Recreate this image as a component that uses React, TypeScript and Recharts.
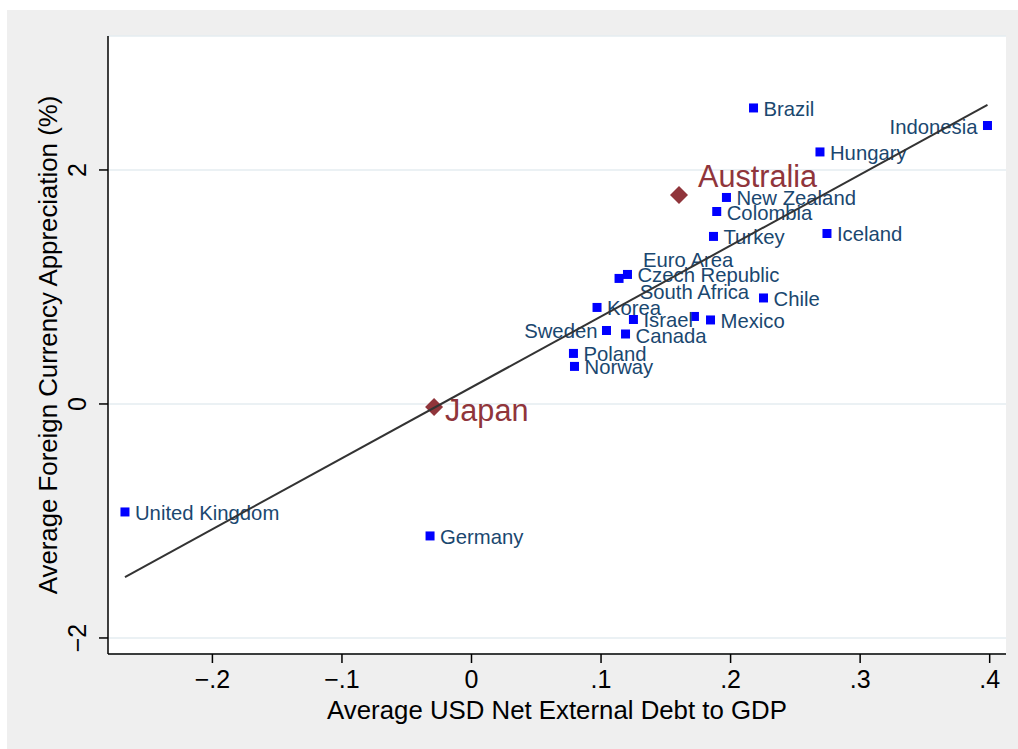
import { ScatterChart, Scatter, XAxis, YAxis, CartesianGrid } from 'recharts'

const FONT = '"Liberation Sans", Arial, Helvetica, sans-serif'

const COUNTRIES = [
  'Brazil', 'Indonesia', 'Hungary', 'New Zealand', 'Colombia', 'Turkey', 'Iceland',
  'Czech Republic', 'Euro Area', 'South Africa', 'Korea', 'Israel', 'Mexico', 'Chile',
  'Sweden', 'Canada', 'Poland', 'Norway', 'United Kingdom', 'Germany',
]
const DEBT = [
  0.2177, 0.3983, 0.269, 0.1968, 0.1893, 0.1868, 0.2744,
  0.1204, 0.1139, 0.1721, 0.0969, 0.125, 0.1845, 0.2254,
  0.1042, 0.1189, 0.0787, 0.0795, -0.2675, -0.032,
]
const APPREC = [
  2.53, 2.38, 2.154, 1.765, 1.645, 1.432, 1.457,
  1.107, 1.073, 0.748, 0.825, 0.722, 0.718, 0.906,
  0.628, 0.598, 0.432, 0.321, -0.923, -1.128,
]

const HIGHLIGHT = ['Australia', 'Japan']
const HIGHLIGHT_DEBT = [0.1602, -0.0289]
const HIGHLIGHT_APPREC = [1.786, -0.026]

// fitted line end points
const FIT_X = [-0.2675, 0.3983]
const FIT_Y = [-1.479, 2.556]

const X_TICKS = [-0.2, -0.1, 0, 0.1, 0.2, 0.3, 0.4]
const Y_TICKS = [-2, 0, 2]

const countryData = COUNTRIES.map((name, i) => ({ name, x: DEBT[i], y: APPREC[i] }))
const highlightData = HIGHLIGHT.map((name, i) => ({ name, x: HIGHLIGHT_DEBT[i], y: HIGHLIGHT_APPREC[i] }))
const fitData = FIT_X.map((x, i) => ({ x, y: FIT_Y[i] }))

// label placement (style only)
const LABEL_POS: Record<string, { dx: number; dy: number; anchor: 'start' | 'middle' | 'end' }> = {
  Indonesia: { dx: -10, dy: 1, anchor: 'end' },
  Sweden: { dx: -9, dy: 1, anchor: 'end' },
  'Euro Area': { dx: 24, dy: -18, anchor: 'start' },
  'Czech Republic': { dx: 10, dy: 1, anchor: 'start' },
  'South Africa': { dx: 0, dy: -24, anchor: 'middle' },
  Canada: { dx: 10, dy: 2, anchor: 'start' },
}

const fmt = (v: number) => {
  if (v === 0) return '0'
  const s = Math.abs(v) < 1 ? String(Math.abs(v)).replace(/^0/, '') : String(Math.abs(v))
  return (v < 0 ? '\u2212' : '') + s
}

const CountryShape = (props: any) => {
  const { cx, cy, payload } = props
  const pos = LABEL_POS[payload.name] ?? { dx: 10, dy: 1, anchor: 'start' }
  return (
    <g>
      <rect x={cx - 4.5} y={cy - 4.5} width={9} height={9} fill="#0000ff" />
      <text
        x={cx + pos.dx}
        y={cy + pos.dy}
        textAnchor={pos.anchor}
        dominantBaseline="central"
        fontSize={20.3}
        fontFamily={FONT}
        fill="#1a476f"
      >
        {payload.name}
      </text>
    </g>
  )
}

const HighlightShape = (props: any) => {
  const { cx, cy, payload } = props
  const r = 9
  const above = payload.name === 'Australia'
  return (
    <g>
      <polygon points={`${cx},${cy - r} ${cx + r},${cy} ${cx},${cy + r} ${cx - r},${cy}`} fill="#90353b" />
      <text
        x={cx + (above ? 19 : 11)}
        y={cy + (above ? -19 : 3)}
        dominantBaseline="central"
        fontSize={30.6}
        fontFamily={FONT}
        fill="#90353b"
      >
        {payload.name}
      </text>
    </g>
  )
}

const XTick = (props: any) => {
  const { x, y, payload } = props
  return (
    <text x={x} y={y + 16} textAnchor="middle" dominantBaseline="central" fontSize={25} fontFamily={FONT} fill="#000">
      {fmt(payload.value)}
    </text>
  )
}

const YTick = (props: any) => {
  const { x, y, payload } = props
  const cx = x - 22
  return (
    <text
      x={cx}
      y={y}
      transform={`rotate(-90 ${cx} ${y})`}
      textAnchor="middle"
      dominantBaseline="central"
      fontSize={25}
      fontFamily={FONT}
      fill="#000"
    >
      {fmt(payload.value)}
    </text>
  )
}

export default function App() {
  return (
    <div
      style={{
        position: 'absolute',
        left: 7,
        top: 10,
        width: 1011,
        height: 739,
        background: '#efefef',
        fontFamily: FONT,
      }}
    >
      <ScatterChart width={1011} height={739} margin={{ top: 26, right: 12, bottom: 0, left: 0 }}>
        <CartesianGrid vertical={false} stroke="#e4edf0" strokeWidth={1.5} fill="#ffffff" />
        <XAxis
          type="number"
          dataKey="x"
          domain={[-0.2806, 0.4126]}
          allowDataOverflow
          ticks={X_TICKS}
          height={95}
          tickSize={9}
          tickMargin={0}
          axisLine={{ stroke: '#000', strokeWidth: 1.5 }}
          tickLine={{ stroke: '#000', strokeWidth: 1.5 }}
          tick={<XTick />}
        />
        <YAxis
          type="number"
          dataKey="y"
          domain={[-2.137, 3.145]}
          allowDataOverflow
          ticks={Y_TICKS}
          width={101}
          tickSize={9}
          tickMargin={0}
          axisLine={{ stroke: '#000', strokeWidth: 1.5 }}
          tickLine={{ stroke: '#000', strokeWidth: 1.5 }}
          tick={<YTick />}
        />
        <Scatter data={countryData} shape={<CountryShape />} isAnimationActive={false} />
        <Scatter data={highlightData} shape={<HighlightShape />} isAnimationActive={false} />
        <Scatter
          data={fitData}
          line={{ stroke: '#333333', strokeWidth: 2 }}
          shape={() => <g />}
          isAnimationActive={false}
        />
      </ScatterChart>
      <div
        style={{
          position: 'absolute',
          left: 557 - 7,
          top: 710 - 10,
          transform: 'translate(-50%, -50%)',
          whiteSpace: 'nowrap',
          fontSize: 25.8,
          color: '#000',
        }}
      >
        Average USD Net External Debt to GDP
      </div>
      <div
        style={{
          position: 'absolute',
          left: 48 - 7,
          top: 345 - 10,
          transform: 'translate(-50%, -50%) rotate(-90deg)',
          whiteSpace: 'nowrap',
          fontSize: 25.8,
          color: '#000',
        }}
      >
        Average Foreign Currency Appreciation (%)
      </div>
    </div>
  )
}
